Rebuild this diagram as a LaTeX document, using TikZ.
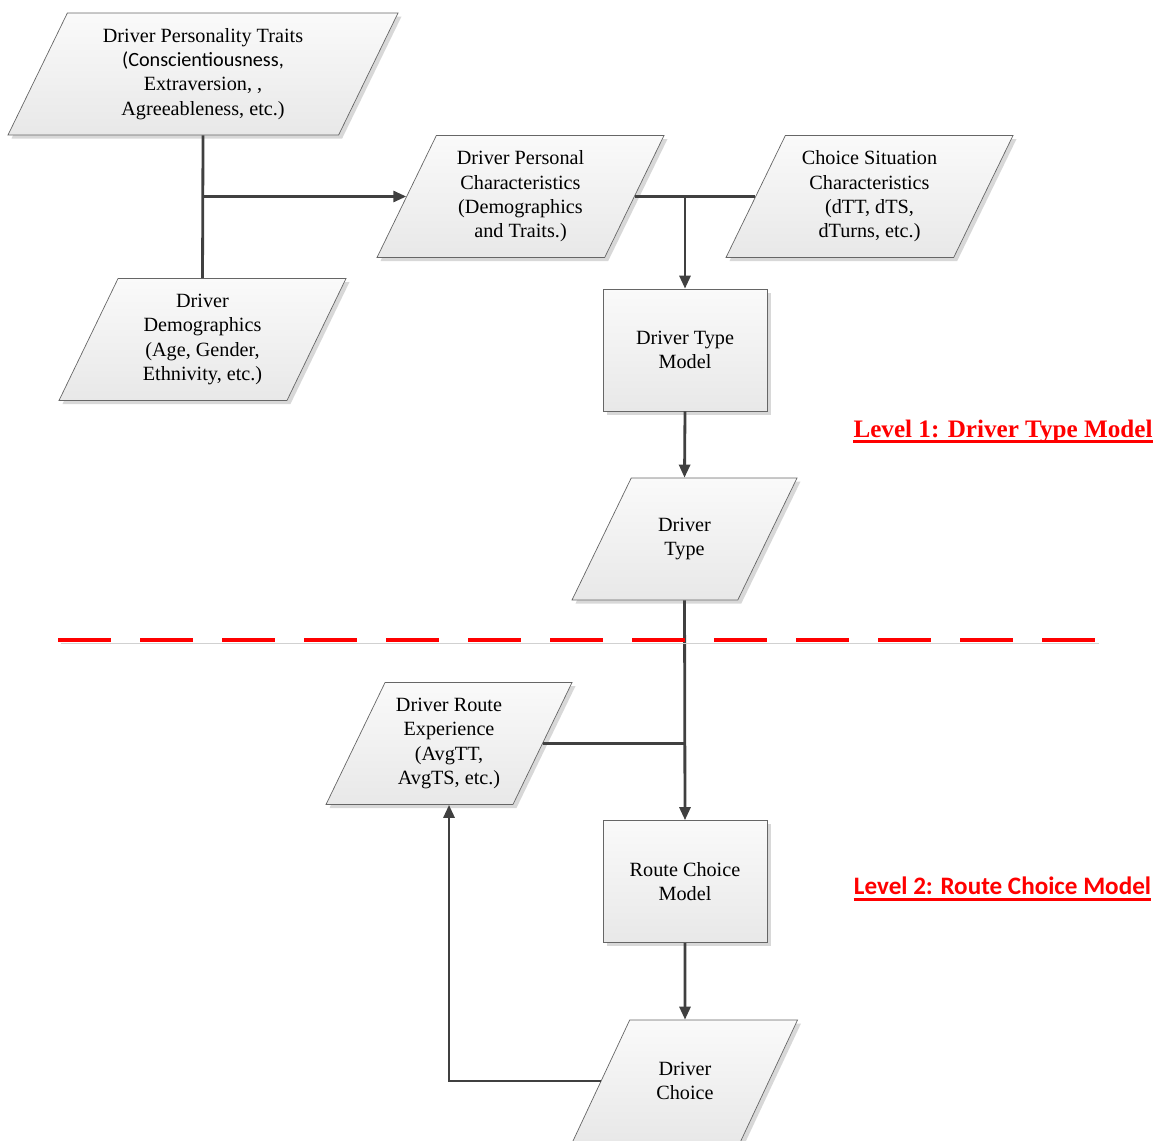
\documentclass[tikz,border=0pt]{standalone}
\usepackage{fontspec}
\setmainfont{Liberation Serif}
\newfontfamily\calibri{Carlito}
\usetikzlibrary{shapes.geometric,arrows.meta,shadows}
\begin{document}
\begin{tikzpicture}[
  font=\fontsize{11.5}{13.8}\selectfont,
  box/.style={
    draw=black!60,
    top color=black!2,
    bottom color=black!9,
    thin,
    drop shadow={shadow xshift=0.07cm, shadow yshift=-0.07cm, fill=black!30, opacity=0.5},
    minimum width=3.28cm,
    minimum height=2.44cm,
    align=center
  },
  para/.style={
    box,
    trapezium,
    trapezium left angle=64,
    trapezium right angle=116,
    trapezium stretches body,
    inner ysep=8.7pt,
    minimum width=#1
  },
  short/.style={inner ysep=22.6pt},
  flow/.style={-{Triangle[length=0.26cm,width=0.22cm]}, line width=1.6pt, draw=black!75},
  link/.style={line width=1.6pt, draw=black!75},
  divider/.style={
    draw=red,
    line width=2.3pt,
    dash pattern=on 1.06cm off 0.58cm,
    preaction={draw=black!18, transform canvas={shift={(0.06,-0.06)}}}
  },
  level/.style={text=red, inner xsep=0pt, font=\rmfamily\fontsize{14.3}{16}\selectfont\bfseries},
  levelline/.style={draw=red, line width=1.7pt}
]

\useasboundingbox (0,0) rectangle (23.1,-22.8);

\node[para=7.8cm] (traits) at (4.06,-1.48) {Driver Personality Traits\\{\calibri (Conscientiousness,}\\Extraversion, ,\\Agreeableness, etc.)};
\node[para=5.74cm] (personal) at (10.41,-3.93) {Driver Personal\\Characteristics\\(Demographics\\and Traits.)};
\node[para=5.74cm] (situation) at (17.39,-3.93) {Choice Situation\\Characteristics\\(dTT, dTS,\\dTurns, etc.)};
\node[para=5.74cm] (demographics) at (4.05,-6.79) {Driver\\Demographics\\(Age, Gender,\\Ethnivity, etc.)};

\node[box] (typemodel) at (13.7,-7.0) {Driver Type\\Model};
\node[para=4.5cm, short] (drivertype) at (13.69,-10.78) {Driver\\Type};

\node[para=4.92cm] (experience) at (8.98,-14.87) {Driver Route\\Experience\\(AvgTT,\\AvgTS, etc.)};
\node[box] (choicemodel) at (13.7,-17.63) {Route Choice\\Model};
\node[para=4.5cm, short] (choice) at (13.7,-21.62) {Driver\\Choice};

\coordinate (traitsjoin) at (traits.south |- personal.west);
\coordinate (personaljoin) at (personal.east -| typemodel.north);
\coordinate (experiencejoin) at (experience.east -| choicemodel.north);

\draw[link] (traits.south) -- (demographics.north);
\draw[flow] (traitsjoin) -- (personal.west);
\draw[link] (personal.east) -- (situation.west);
\draw[flow] (personaljoin) -- (typemodel.north);
\draw[flow] (typemodel.south) -- (drivertype.north);
\draw[flow] (drivertype.south) -- (choicemodel.north);
\draw[link] (experience.east) -- (experiencejoin);
\draw[flow] (choicemodel.south) -- (choice.north);
\draw[flow] (choice.west) -| (experience.south);

\coordinate (divleft) at (1.16,-12.8);
\coordinate (divright) at (21.92,-12.8);
\draw[divider] (divleft) -- (divright);

\node[level] (levelone) at (20.06,-8.62) {Level 1: Driver Type Model};
\node[level, font=\calibri\fontsize{14.3}{16}\selectfont\bfseries] (leveltwo) at (20.05,-17.72) {Level 2: Route Choice Model};
\draw[levelline] ([yshift=-2.5pt]levelone.base west) -- ([yshift=-2.5pt]levelone.base east);
\draw[levelline] ([yshift=-2.5pt]leveltwo.base west) -- ([yshift=-2.5pt]leveltwo.base east);

\end{tikzpicture}
\end{document}
